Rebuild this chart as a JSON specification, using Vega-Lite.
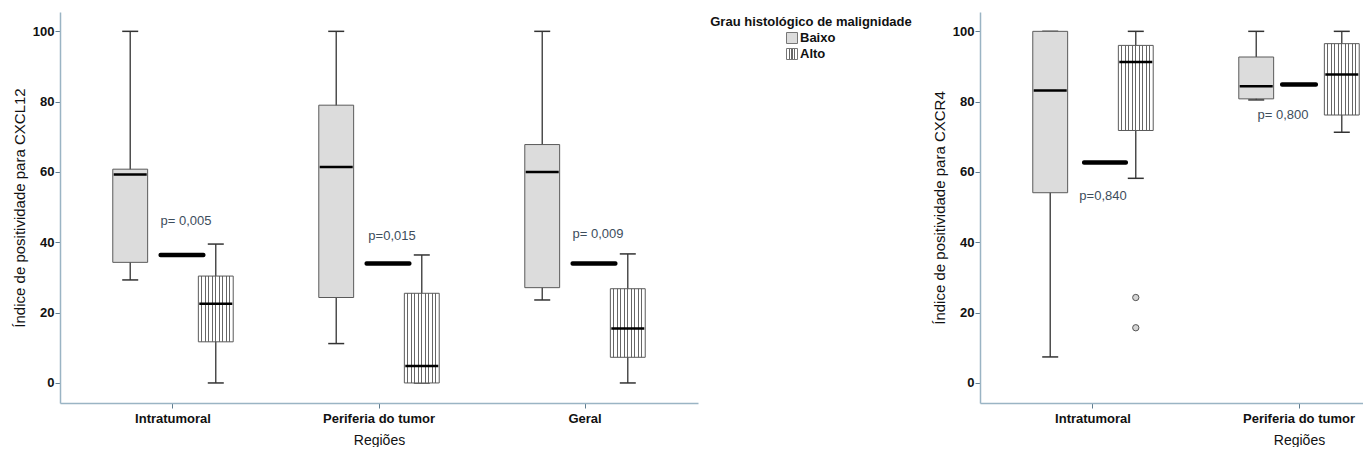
{
  "$schema": "https://vega.github.io/schema/vega-lite/v6.json",
  "padding": {"left": 12, "top": 12, "right": 0, "bottom": 0},
  "bounds": "flush",
  "spacing": 20,
  "config": {
    "view": {"stroke": null},
    "font": "Liberation Sans",
    "tick": {"opacity": 1},
    "bar": {"opacity": 1},
    "axis": {
      "grid": false,
      "labelFont": "Liberation Sans",
      "labelFontSize": 13,
      "labelFontWeight": "bold",
      "labelColor": "#111111",
      "titleFont": "Liberation Sans",
      "titleFontWeight": "normal",
      "titleColor": "#111111",
      "domainColor": "#9ab4c4",
      "domainWidth": 1.5,
      "tickColor": "#5f7d8f",
      "tickSize": 5
    }
  },
  "datasets": {
    "cxcl12": [
      {"regiao": "Intratumoral", "grau": "Baixo", "min": 29.3, "q1": 34.3, "median": 59.3, "q3": 60.8, "max": 100},
      {"regiao": "Intratumoral", "grau": "Alto", "min": 0, "q1": 11.7, "median": 22.5, "q3": 30.4, "max": 39.5},
      {"regiao": "Periferia do tumor", "grau": "Baixo", "min": 11.2, "q1": 24.3, "median": 61.4, "q3": 79.0, "max": 100},
      {"regiao": "Periferia do tumor", "grau": "Alto", "min": 0, "q1": 0, "median": 4.8, "q3": 25.5, "max": 36.4},
      {"regiao": "Geral", "grau": "Baixo", "min": 23.6, "q1": 27.1, "median": 60.0, "q3": 67.8, "max": 100},
      {"regiao": "Geral", "grau": "Alto", "min": 0, "q1": 7.3, "median": 15.5, "q3": 26.8, "max": 36.7}
    ],
    "p_cxcl12": [
      {"regiao": "Intratumoral", "p": "p= 0,005", "linha": 36.4, "rotulo": 46.0},
      {"regiao": "Periferia do tumor", "p": "p=0,015", "linha": 34.0, "rotulo": 41.9},
      {"regiao": "Geral", "p": "p= 0,009", "linha": 34.0, "rotulo": 42.4}
    ],
    "cxcr4": [
      {"regiao": "Intratumoral", "grau": "Baixo", "min": 7.4, "q1": 54.1, "median": 83.2, "q3": 100, "max": 100},
      {"regiao": "Intratumoral", "grau": "Alto", "min": 58.2, "q1": 71.8, "median": 91.3, "q3": 96.0, "max": 100},
      {"regiao": "Periferia do tumor", "grau": "Baixo", "min": 80.5, "q1": 80.8, "median": 84.4, "q3": 92.7, "max": 100},
      {"regiao": "Periferia do tumor", "grau": "Alto", "min": 71.3, "q1": 76.2, "median": 87.7, "q3": 96.5, "max": 100}
    ],
    "out_cxcr4": [
      {"regiao": "Intratumoral", "grau": "Alto", "valor": 24.3},
      {"regiao": "Intratumoral", "grau": "Alto", "valor": 15.7}
    ],
    "p_cxcr4": [
      {"regiao": "Intratumoral", "p": "p=0,840", "linha": 62.7, "rotulo": 53.1},
      {"regiao": "Periferia do tumor", "p": "p= 0,800", "linha": 84.9, "rotulo": 76.3}
    ],
    "legenda": [
      {"item": "Grau histológico de malignidade", "tipo": "titulo"},
      {"item": "Baixo", "tipo": "chave"},
      {"item": "Alto", "tipo": "chave"}
    ]
  },
  "hconcat": [
    {
      "width": 638,
      "height": 391,
      "encoding": {
        "x": {"field": "regiao", "type": "nominal", "sort": ["Intratumoral", "Periferia do tumor", "Geral"],
              "scale": {"paddingInner": 0, "paddingOuter": 0.0485},
              "axis": {"title": "Regiões", "titleFontSize": 14, "labelAngle": 0, "labelPadding": 4, "titlePadding": 8}}
      },
      "layer": [
        {"data": {"name": "cxcl12"},
         "mark": {"type": "rule", "color": "#333333", "strokeWidth": 1.3},
         "encoding": {
           "xOffset": {"field": "grau", "type": "nominal", "scale": {"domain": ["Baixo", "p", "Alto"], "paddingInner": 0.185, "paddingOuter": 1.136}},
           "y": {"field": "min", "type": "quantitative", "title": "Índice de positividade para CXCL12", "scale": {"domain": [-5.7, 105.5], "nice": false, "zero": false},
                 "axis": {"titleFontSize": 15, "values": [0, 20, 40, 60, 80, 100], "labelPadding": 1, "titlePadding": 5}},
           "y2": {"field": "max"}}},
        {"data": {"name": "cxcl12"},
         "mark": {"type": "tick", "orient": "horizontal", "color": "#333333", "size": 16, "thickness": 1.5},
         "encoding": {
           "xOffset": {"field": "grau", "type": "nominal", "scale": {"domain": ["Baixo", "p", "Alto"], "paddingInner": 0.185, "paddingOuter": 1.136}},
           "y": {"field": "min", "type": "quantitative", "title": "Índice de positividade para CXCL12"}}},
        {"data": {"name": "cxcl12"},
         "mark": {"type": "tick", "orient": "horizontal", "color": "#333333", "size": 16, "thickness": 1.5},
         "encoding": {
           "xOffset": {"field": "grau", "type": "nominal", "scale": {"domain": ["Baixo", "p", "Alto"], "paddingInner": 0.185, "paddingOuter": 1.136}},
           "y": {"field": "max", "type": "quantitative", "title": "Índice de positividade para CXCL12"}}},
        {"data": {"name": "cxcl12"},
         "transform": [{"filter": "datum.grau === 'Baixo'"}],
         "mark": {"type": "bar", "fill": "#dcdcdc", "stroke": "#5a5a5a", "strokeWidth": 1},
         "encoding": {
           "xOffset": {"field": "grau", "type": "nominal", "scale": {"domain": ["Baixo", "p", "Alto"], "paddingInner": 0.185, "paddingOuter": 1.136}},
           "y": {"field": "q1", "type": "quantitative", "title": "Índice de positividade para CXCL12"},
           "y2": {"field": "q3"}}},
        {"data": {"name": "cxcl12"},
         "transform": [{"filter": "datum.grau === 'Alto'"}],
         "mark": {"type": "bar", "stroke": "#5a5a5a", "strokeWidth": 1,
                  "fill": {"gradient": "linear", "x1": 0, "y1": 0, "x2": 1, "y2": 0, "stops": [
                    {"offset": 0, "color": "#ffffff"},
                    {"offset": 0.085, "color": "#ffffff"}, {"offset": 0.085, "color": "#666666"}, {"offset": 0.115, "color": "#666666"}, {"offset": 0.115, "color": "#ffffff"},
                    {"offset": 0.185, "color": "#ffffff"}, {"offset": 0.185, "color": "#666666"}, {"offset": 0.215, "color": "#666666"}, {"offset": 0.215, "color": "#ffffff"},
                    {"offset": 0.285, "color": "#ffffff"}, {"offset": 0.285, "color": "#666666"}, {"offset": 0.315, "color": "#666666"}, {"offset": 0.315, "color": "#ffffff"},
                    {"offset": 0.385, "color": "#ffffff"}, {"offset": 0.385, "color": "#666666"}, {"offset": 0.415, "color": "#666666"}, {"offset": 0.415, "color": "#ffffff"},
                    {"offset": 0.485, "color": "#ffffff"}, {"offset": 0.485, "color": "#666666"}, {"offset": 0.515, "color": "#666666"}, {"offset": 0.515, "color": "#ffffff"},
                    {"offset": 0.585, "color": "#ffffff"}, {"offset": 0.585, "color": "#666666"}, {"offset": 0.615, "color": "#666666"}, {"offset": 0.615, "color": "#ffffff"},
                    {"offset": 0.685, "color": "#ffffff"}, {"offset": 0.685, "color": "#666666"}, {"offset": 0.715, "color": "#666666"}, {"offset": 0.715, "color": "#ffffff"},
                    {"offset": 0.785, "color": "#ffffff"}, {"offset": 0.785, "color": "#666666"}, {"offset": 0.815, "color": "#666666"}, {"offset": 0.815, "color": "#ffffff"},
                    {"offset": 0.885, "color": "#ffffff"}, {"offset": 0.885, "color": "#666666"}, {"offset": 0.915, "color": "#666666"}, {"offset": 0.915, "color": "#ffffff"},
                    {"offset": 1, "color": "#ffffff"}]}},
         "encoding": {
           "xOffset": {"field": "grau", "type": "nominal", "scale": {"domain": ["Baixo", "p", "Alto"], "paddingInner": 0.185, "paddingOuter": 1.136}},
           "y": {"field": "q1", "type": "quantitative", "title": "Índice de positividade para CXCL12"},
           "y2": {"field": "q3"}}},
        {"data": {"name": "cxcl12"},
         "mark": {"type": "tick", "orient": "horizontal", "color": "#000000", "size": 33, "thickness": 2.5},
         "encoding": {
           "xOffset": {"field": "grau", "type": "nominal", "scale": {"domain": ["Baixo", "p", "Alto"], "paddingInner": 0.185, "paddingOuter": 1.136}},
           "y": {"field": "median", "type": "quantitative", "title": "Índice de positividade para CXCL12"}}},
        {"data": {"name": "p_cxcl12"},
         "mark": {"type": "tick", "orient": "horizontal", "color": "#000000", "size": 47, "thickness": 4.5, "xOffset": 9, "cornerRadius": 2},
         "encoding": {"y": {"field": "linha", "type": "quantitative", "title": "Índice de positividade para CXCL12"}}},
        {"data": {"name": "p_cxcl12"},
         "mark": {"type": "text", "fontSize": 13, "color": "#3d4d5c", "align": "center", "baseline": "middle", "xOffset": 13},
         "encoding": {"y": {"field": "rotulo", "type": "quantitative", "title": "Índice de positividade para CXCL12"}, "text": {"field": "p"}}}
      ]
    },
    {
      "bounds": "flush",
      "spacing": 114,
      "hconcat": [
        {
          "width": 148,
          "height": 52,
          "data": {"name": "legenda"},
          "encoding": {
            "y": {"field": "item", "type": "nominal", "sort": null, "axis": null,
                  "scale": {"type": "band", "paddingInner": 0, "paddingOuter": 0.125}}
          },
          "layer": [
            {"transform": [{"filter": "datum.tipo === 'titulo'"}],
             "mark": {"type": "text", "fontSize": 13, "fontWeight": "bold", "color": "#111111", "align": "center", "baseline": "middle", "dx": 19},
             "encoding": {"text": {"field": "item"}}},
            {"transform": [{"filter": "datum.item === 'Baixo'"}],
             "mark": {"type": "point", "shape": "square", "filled": true, "fill": "#dcdcdc", "stroke": "#777777", "strokeWidth": 1, "size": 121, "opacity": 1}},
            {"transform": [{"filter": "datum.item === 'Alto'"}],
             "mark": {"type": "point", "shape": "square", "filled": true, "stroke": "#777777", "strokeWidth": 1, "size": 121, "opacity": 1,
                      "fill": {"gradient": "linear", "x1": 0, "y1": 0, "x2": 1, "y2": 0, "stops": [
                        {"offset": 0, "color": "#ffffff"},
                        {"offset": 0.2, "color": "#ffffff"}, {"offset": 0.2, "color": "#666666"}, {"offset": 0.3, "color": "#666666"}, {"offset": 0.3, "color": "#ffffff"},
                        {"offset": 0.45, "color": "#ffffff"}, {"offset": 0.45, "color": "#666666"}, {"offset": 0.55, "color": "#666666"}, {"offset": 0.55, "color": "#ffffff"},
                        {"offset": 0.7, "color": "#ffffff"}, {"offset": 0.7, "color": "#666666"}, {"offset": 0.8, "color": "#666666"}, {"offset": 0.8, "color": "#ffffff"},
                        {"offset": 1, "color": "#ffffff"}]}}},
            {"transform": [{"filter": "datum.tipo === 'chave'"}],
             "mark": {"type": "text", "fontSize": 13, "fontWeight": "bold", "color": "#111111", "align": "left", "baseline": "middle", "dx": 8},
             "encoding": {"text": {"field": "item"}}}
          ]
        },
        {
          "width": 432,
          "height": 391,
          "encoding": {
            "x": {"field": "regiao", "type": "nominal", "sort": ["Intratumoral", "Periferia do tumor"],
                  "scale": {"paddingInner": 0, "paddingOuter": 0.0485},
                  "axis": {"title": "Regiões", "titleFontSize": 14, "labelAngle": 0, "labelPadding": 4, "titlePadding": 8, "titleX": 319, "titleAlign": "center"}}
          },
          "layer": [
            {"data": {"name": "cxcr4"},
             "mark": {"type": "rule", "color": "#333333", "strokeWidth": 1.3},
             "encoding": {
               "xOffset": {"field": "grau", "type": "nominal", "scale": {"domain": ["Baixo", "p", "Alto"], "paddingInner": 0.185, "paddingOuter": 1.136}},
               "y": {"field": "min", "type": "quantitative", "title": "Índice de positividade para CXCR4", "scale": {"domain": [-5.7, 105.5], "nice": false, "zero": false},
                     "axis": {"titleFontSize": 15, "values": [0, 20, 40, 60, 80, 100], "labelPadding": 1, "titlePadding": 5}},
               "y2": {"field": "max"}}},
            {"data": {"name": "cxcr4"},
             "mark": {"type": "tick", "orient": "horizontal", "color": "#333333", "size": 16, "thickness": 1.5},
             "encoding": {
               "xOffset": {"field": "grau", "type": "nominal", "scale": {"domain": ["Baixo", "p", "Alto"], "paddingInner": 0.185, "paddingOuter": 1.136}},
               "y": {"field": "min", "type": "quantitative", "title": "Índice de positividade para CXCR4"}}},
            {"data": {"name": "cxcr4"},
             "mark": {"type": "tick", "orient": "horizontal", "color": "#333333", "size": 16, "thickness": 1.5},
             "encoding": {
               "xOffset": {"field": "grau", "type": "nominal", "scale": {"domain": ["Baixo", "p", "Alto"], "paddingInner": 0.185, "paddingOuter": 1.136}},
               "y": {"field": "max", "type": "quantitative", "title": "Índice de positividade para CXCR4"}}},
            {"data": {"name": "cxcr4"},
             "transform": [{"filter": "datum.grau === 'Baixo'"}],
             "mark": {"type": "bar", "fill": "#dcdcdc", "stroke": "#5a5a5a", "strokeWidth": 1},
             "encoding": {
               "xOffset": {"field": "grau", "type": "nominal", "scale": {"domain": ["Baixo", "p", "Alto"], "paddingInner": 0.185, "paddingOuter": 1.136}},
               "y": {"field": "q1", "type": "quantitative", "title": "Índice de positividade para CXCR4"},
               "y2": {"field": "q3"}}},
            {"data": {"name": "cxcr4"},
             "transform": [{"filter": "datum.grau === 'Alto'"}],
             "mark": {"type": "bar", "stroke": "#5a5a5a", "strokeWidth": 1,
                      "fill": {"gradient": "linear", "x1": 0, "y1": 0, "x2": 1, "y2": 0, "stops": [
                        {"offset": 0, "color": "#ffffff"},
                        {"offset": 0.085, "color": "#ffffff"}, {"offset": 0.085, "color": "#666666"}, {"offset": 0.115, "color": "#666666"}, {"offset": 0.115, "color": "#ffffff"},
                        {"offset": 0.185, "color": "#ffffff"}, {"offset": 0.185, "color": "#666666"}, {"offset": 0.215, "color": "#666666"}, {"offset": 0.215, "color": "#ffffff"},
                        {"offset": 0.285, "color": "#ffffff"}, {"offset": 0.285, "color": "#666666"}, {"offset": 0.315, "color": "#666666"}, {"offset": 0.315, "color": "#ffffff"},
                        {"offset": 0.385, "color": "#ffffff"}, {"offset": 0.385, "color": "#666666"}, {"offset": 0.415, "color": "#666666"}, {"offset": 0.415, "color": "#ffffff"},
                        {"offset": 0.485, "color": "#ffffff"}, {"offset": 0.485, "color": "#666666"}, {"offset": 0.515, "color": "#666666"}, {"offset": 0.515, "color": "#ffffff"},
                        {"offset": 0.585, "color": "#ffffff"}, {"offset": 0.585, "color": "#666666"}, {"offset": 0.615, "color": "#666666"}, {"offset": 0.615, "color": "#ffffff"},
                        {"offset": 0.685, "color": "#ffffff"}, {"offset": 0.685, "color": "#666666"}, {"offset": 0.715, "color": "#666666"}, {"offset": 0.715, "color": "#ffffff"},
                        {"offset": 0.785, "color": "#ffffff"}, {"offset": 0.785, "color": "#666666"}, {"offset": 0.815, "color": "#666666"}, {"offset": 0.815, "color": "#ffffff"},
                        {"offset": 0.885, "color": "#ffffff"}, {"offset": 0.885, "color": "#666666"}, {"offset": 0.915, "color": "#666666"}, {"offset": 0.915, "color": "#ffffff"},
                        {"offset": 1, "color": "#ffffff"}]}},
             "encoding": {
               "xOffset": {"field": "grau", "type": "nominal", "scale": {"domain": ["Baixo", "p", "Alto"], "paddingInner": 0.185, "paddingOuter": 1.136}},
               "y": {"field": "q1", "type": "quantitative", "title": "Índice de positividade para CXCR4"},
               "y2": {"field": "q3"}}},
            {"data": {"name": "cxcr4"},
             "mark": {"type": "tick", "orient": "horizontal", "color": "#000000", "size": 33, "thickness": 2.5},
             "encoding": {
               "xOffset": {"field": "grau", "type": "nominal", "scale": {"domain": ["Baixo", "p", "Alto"], "paddingInner": 0.185, "paddingOuter": 1.136}},
               "y": {"field": "median", "type": "quantitative", "title": "Índice de positividade para CXCR4"}}},
            {"data": {"name": "out_cxcr4"},
             "mark": {"type": "point", "shape": "circle", "filled": true, "fill": "#d4d4d4", "stroke": "#555555", "strokeWidth": 1, "size": 40, "opacity": 1},
             "encoding": {
               "xOffset": {"field": "grau", "type": "nominal", "scale": {"domain": ["Baixo", "p", "Alto"], "paddingInner": 0.185, "paddingOuter": 1.136}},
               "y": {"field": "valor", "type": "quantitative", "title": "Índice de positividade para CXCR4"}}},
            {"data": {"name": "p_cxcr4"},
             "transform": [{"filter": "datum.regiao === 'Intratumoral'"}],
             "mark": {"type": "tick", "orient": "horizontal", "color": "#000000", "size": 46, "thickness": 4.5, "xOffset": 12, "cornerRadius": 2},
             "encoding": {"y": {"field": "linha", "type": "quantitative", "title": "Índice de positividade para CXCR4"}}},
            {"data": {"name": "p_cxcr4"},
             "transform": [{"filter": "datum.regiao !== 'Intratumoral'"}],
             "mark": {"type": "tick", "orient": "horizontal", "color": "#000000", "size": 38, "thickness": 4.5, "cornerRadius": 2},
             "encoding": {"y": {"field": "linha", "type": "quantitative", "title": "Índice de positividade para CXCR4"}}},
            {"data": {"name": "p_cxcr4"},
             "transform": [{"filter": "datum.regiao === 'Intratumoral'"}],
             "mark": {"type": "text", "fontSize": 13, "color": "#3d4d5c", "align": "center", "baseline": "middle", "xOffset": 10},
             "encoding": {"y": {"field": "rotulo", "type": "quantitative", "title": "Índice de positividade para CXCR4"}, "text": {"field": "p"}}},
            {"data": {"name": "p_cxcr4"},
             "transform": [{"filter": "datum.regiao !== 'Intratumoral'"}],
             "mark": {"type": "text", "fontSize": 13, "color": "#3d4d5c", "align": "center", "baseline": "middle", "xOffset": -16},
             "encoding": {"y": {"field": "rotulo", "type": "quantitative", "title": "Índice de positividade para CXCR4"}, "text": {"field": "p"}}}
          ]
        }
      ]
    }
  ]
}
